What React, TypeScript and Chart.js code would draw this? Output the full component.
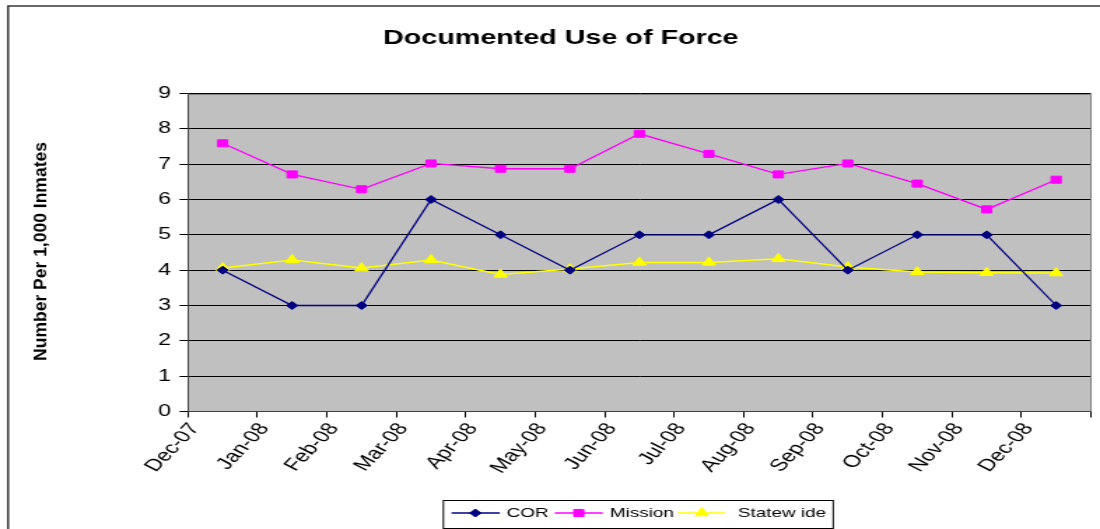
import React, { useEffect, useRef } from 'react';
import { Chart, registerables } from 'chart.js';

Chart.register(...registerables);

// ---- data ----
const months = ['Dec-07', 'Jan-08', 'Feb-08', 'Mar-08', 'Apr-08', 'May-08', 'Jun-08', 'Jul-08', 'Aug-08', 'Sep-08', 'Oct-08', 'Nov-08', 'Dec-08'];
const corValues = [4, 3, 3, 6, 5, 4, 5, 5, 6, 4, 5, 5, 3];
const missionValues = [7.59, 6.71, 6.29, 7.02, 6.87, 6.87, 7.86, 7.29, 6.71, 7.02, 6.45, 5.72, 6.56];
const statewideValues = [4.06, 4.29, 4.06, 4.29, 3.88, 4.03, 4.22, 4.22, 4.32, 4.09, 3.95, 3.93, 3.92];
const seriesNames = ['COR', 'Mission', 'Statew ide'];
const seriesColors = ['#000080', '#FF00FF', '#FFFF00'];
const chartTitle = 'Documented Use of Force';
const yAxisTitle = 'Number Per 1,000 Inmates';
const yMin = 0;
const yMax = 9;

// the original picture is horizontally stretched; draw narrow then stretch via CSS
const STRETCH = 1.4;
const W = Math.round(1100 / STRETCH);
const H = 529;
const FONT = '"Liberation Sans", Arial, sans-serif';

const toPoints = (vals: number[]) => vals.map((v, i) => ({ x: i + 0.5, y: v }));

function drawMarker(ctx: CanvasRenderingContext2D, style: string, x: number, y: number, r: number, color: string) {
  ctx.save();
  ctx.fillStyle = color;
  ctx.strokeStyle = color;
  ctx.lineWidth = 1;
  ctx.beginPath();
  if (style === 'rectRot') {
    ctx.moveTo(x, y - r); ctx.lineTo(x + r, y); ctx.lineTo(x, y + r); ctx.lineTo(x - r, y); ctx.closePath();
  } else if (style === 'rect') {
    const s = r * Math.SQRT1_2;
    ctx.rect(x - s, y - s, 2 * s, 2 * s);
  } else {
    ctx.moveTo(x, y - r); ctx.lineTo(x + r * Math.sqrt(3) / 2, y + r / 2); ctx.lineTo(x - r * Math.sqrt(3) / 2, y + r / 2); ctx.closePath();
  }
  ctx.fill();
  ctx.stroke();
  ctx.restore();
}

const decorPlugin = {
  id: 'decor',
  beforeDraw(chart: any) {
    const { ctx, chartArea: a, width, height } = chart;
    ctx.save();
    ctx.fillStyle = '#ffffff';
    ctx.fillRect(0, 0, width, height);
    ctx.strokeStyle = '#1a1a1a';
    ctx.lineWidth = 1.3;
    ctx.strokeRect(5.8, 6, width + 20, height + 20);
    ctx.fillStyle = '#C0C0C0';
    ctx.fillRect(a.left, a.top, a.right - a.left, a.bottom - a.top);
    ctx.restore();
  },
  beforeDatasetsDraw(chart: any) {
    const { ctx, chartArea: a } = chart;
    ctx.save();
    ctx.strokeStyle = '#808080';
    ctx.lineWidth = 1;
    ctx.beginPath();
    ctx.moveTo(a.left, Math.round(a.top) + 0.5);
    ctx.lineTo(a.right, Math.round(a.top) + 0.5);
    ctx.lineTo(a.right, a.bottom);
    ctx.stroke();
    ctx.restore();
  },
  afterDraw(chart: any) {
    const { ctx } = chart;
    ctx.save();
    // title
    ctx.fillStyle = '#000';
    ctx.font = `bold 20.5px ${FONT}`;
    ctx.textAlign = 'center';
    ctx.textBaseline = 'alphabetic';
    ctx.fillText(chartTitle, 561 / STRETCH, 44);
    // y axis title (squeezed across its height)
    ctx.save();
    ctx.translate(46.5 / STRETCH, 251.5);
    ctx.rotate(-Math.PI / 2);
    ctx.scale(1, 0.7);
    ctx.font = `bold 17.5px ${FONT}`;
    ctx.textAlign = 'center';
    ctx.textBaseline = 'alphabetic';
    ctx.fillText(yAxisTitle, 0, 0);
    ctx.restore();
    // legend
    const lx0 = 443.5 / STRETCH, lx1 = 833.5 / STRETCH, ly0 = 500.5, ly1 = 528.5;
    ctx.fillStyle = '#fff';
    ctx.fillRect(lx0, ly0, lx1 - lx0, ly1 - ly0);
    ctx.strokeStyle = '#000';
    ctx.lineWidth = 1;
    ctx.strokeRect(lx0, ly0, lx1 - lx0, ly1 - ly0);
    const items = [
      { l0: 451.7, l1: 500, m: 475.5, t: 506.7, style: 'rectRot', r: 4 },
      { l0: 555, l1: 603, m: 579, t: 610, style: 'rect', r: 5 },
      { l0: 678, l1: 725, m: 702, t: 738, style: 'triangle', r: 5.5 },
    ];
    const cy = 513;
    items.forEach((it, i) => {
      ctx.strokeStyle = seriesColors[i];
      ctx.lineWidth = 1.3;
      ctx.beginPath();
      ctx.moveTo(it.l0 / STRETCH, cy);
      ctx.lineTo(it.l1 / STRETCH, cy);
      ctx.stroke();
      drawMarker(ctx, it.style, it.m / STRETCH, cy, it.r, seriesColors[i]);
      ctx.fillStyle = '#000';
      ctx.font = `13.5px ${FONT}`;
      ctx.textAlign = 'left';
      ctx.textBaseline = 'middle';
      ctx.fillText(seriesNames[i], it.t / STRETCH, cy + 0.5);
    });
    ctx.restore();
  },
};

export default function App() {
  const ref = useRef<HTMLCanvasElement | null>(null);
  useEffect(() => {
    if (!ref.current) return;
    const chart = new Chart(ref.current, {
      type: 'line',
      data: {
        datasets: [
          {
            label: seriesNames[0],
            data: toPoints(corValues),
            borderColor: seriesColors[0],
            backgroundColor: seriesColors[0],
            borderWidth: 1.3,
            pointStyle: 'rectRot',
            pointRadius: 4,
            pointBorderWidth: 1,
          },
          {
            label: seriesNames[1],
            data: toPoints(missionValues),
            borderColor: seriesColors[1],
            backgroundColor: seriesColors[1],
            borderWidth: 1.3,
            pointStyle: 'rect',
            pointRadius: 5,
            pointBorderWidth: 1,
          },
          {
            label: seriesNames[2],
            data: toPoints(statewideValues),
            borderColor: seriesColors[2],
            backgroundColor: seriesColors[2],
            borderWidth: 1.5,
            pointStyle: 'triangle',
            pointRadius: 5.5,
            pointBorderWidth: 1,
          },
        ],
      },
      options: {
        responsive: false,
        devicePixelRatio: 1,
        animation: false,
        layout: { padding: { left: 0, top: 93.5, right: W - 1094 / STRETCH, bottom: 0 } },
        plugins: {
          legend: { display: false },
          title: { display: false },
          tooltip: { enabled: false },
        },
        scales: {
          x: {
            type: 'linear',
            min: 0,
            max: months.length,
            afterFit: (s: any) => { s.height = H - 411.5; s.paddingLeft = 0; s.paddingRight = 0; },
            ticks: {
              stepSize: 1,
              autoSkip: false,
              maxRotation: 54.5,
              minRotation: 54.5,
              color: '#000',
              padding: 2,
              labelOffset: 5,
              font: { family: FONT, size: 17 },
              callback: (v: any) => months[v as number] ?? '',
            },
            grid: { drawOnChartArea: false, drawTicks: true, tickLength: 6, tickColor: '#000' },
            border: { color: '#404040', width: 1 },
          },
          y: {
            min: yMin,
            max: yMax,
            afterFit: (s: any) => { s.width = 188 / STRETCH; s.paddingTop = 0; s.paddingBottom = 0; },
            ticks: {
              stepSize: 1,
              color: '#000',
              padding: 6,
              font: { family: FONT, size: 16.5 },
            },
            grid: { color: '#000', lineWidth: 1, tickLength: 6, tickColor: '#000' },
            border: { color: '#404040', width: 1 },
          },
        },
      },
      plugins: [decorPlugin],
    });
    return () => chart.destroy();
  }, []);
  return (
    <div style={{ position: 'absolute', left: 0, top: 0, width: 1100, height: H, background: '#fff' }}>
      <canvas ref={ref} width={W} height={H} style={{ width: '1100px', height: `${H}px`, display: 'block' }} />
    </div>
  );
}
